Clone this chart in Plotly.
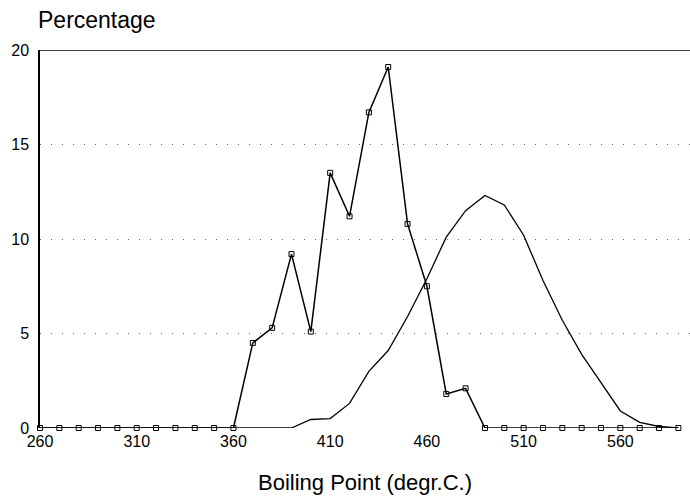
import plotly.graph_objects as go

boiling_point = list(range(260, 600, 10))
fraction_pct = [0, 0, 0, 0, 0, 0, 0, 0, 0, 0, 0,
                4.5, 5.3, 9.2, 5.1, 13.5, 11.2, 16.7, 19.1, 10.8, 7.5, 1.8, 2.1,
                0, 0, 0, 0, 0, 0, 0, 0, 0, 0, 0]
smooth_pct = [0, 0, 0, 0, 0, 0, 0, 0, 0, 0, 0, 0, 0, 0,
              0.45, 0.5, 1.3, 3.0, 4.1, 5.9, 7.9, 10.1, 11.5, 12.3, 11.8, 10.2,
              7.8, 5.7, 3.9, 2.4, 0.9, 0.3, 0.08, 0]
x_ticks = [260, 310, 360, 410, 460, 510, 560]
y_ticks = [0, 5, 10, 15, 20]

FONT = "Liberation Sans"

fig = go.Figure()
fig.add_trace(go.Scatter(
    x=boiling_point, y=smooth_pct, mode="lines",
    line=dict(color="black", width=1.3), cliponaxis=False, showlegend=False))
fig.add_trace(go.Scatter(
    x=boiling_point, y=fraction_pct, mode="lines+markers",
    line=dict(color="black", width=1.5),
    marker=dict(symbol="square-open", size=5, color="black", line=dict(width=1)),
    cliponaxis=False, showlegend=False))

fig.add_shape(type="line", xref="paper", yref="y", x0=0, x1=1, y0=20, y1=20,
              line=dict(color="black", width=1.5))

fig.add_annotation(text="Percentage", xref="paper", yref="paper", x=0, y=1,
                   xanchor="left", yanchor="bottom", xshift=-4, yshift=15,
                   showarrow=False, font=dict(family=FONT, size=23, color="black"))
fig.add_annotation(text="Boiling Point (degr.C.)", xref="paper", yref="paper",
                   x=0.5, y=0, xanchor="center", yanchor="middle", yshift=-54,
                   showarrow=False, font=dict(family=FONT, size=22, color="black"))

fig.update_xaxes(range=[260, 596], tickvals=x_ticks, ticks="", showline=False,
                 showgrid=False, zeroline=False, ticklabelstandoff=2,
                 tickfont=dict(family=FONT, size=16, color="black"))
fig.update_yaxes(range=[0, 20], tickvals=y_ticks, ticks="", showline=True,
                 linecolor="black", linewidth=1.5, showgrid=True,
                 gridcolor="#666666", gridwidth=1, griddash="1px,10px",
                 zeroline=False, ticklabelstandoff=6,
                 tickfont=dict(family=FONT, size=16, color="black"))

fig.update_layout(width=690, height=497, margin=dict(l=40, r=0, t=50, b=69),
                  paper_bgcolor="white", plot_bgcolor="white",
                  font=dict(family=FONT, color="black"))

fig.write_html("out.html")
